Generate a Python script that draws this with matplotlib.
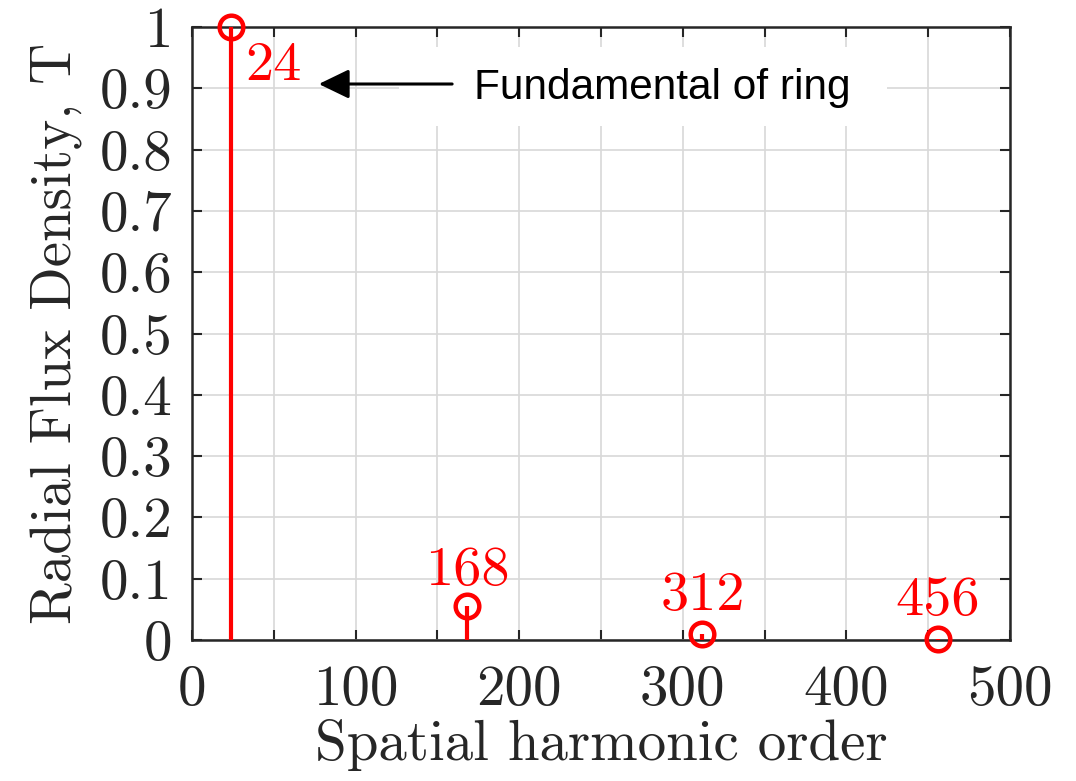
import matplotlib
matplotlib.use("Agg")
import matplotlib.pyplot as plt
from matplotlib.patches import Rectangle

plt.rcParams['font.family'] = ['cmr10', 'DejaVu Serif']
plt.rcParams['axes.formatter.use_mathtext'] = True
plt.rcParams['mathtext.fontset'] = 'cm'

# data
orders = [24, 168, 312, 456]
amplitudes = [1.0, 0.056, 0.010, 0.001]
labels = ["24", "168", "312", "456"]
label_pos = [(32.5, 0.913, 'left'), (168, 0.09, 'center'), (312, 0.049, 'center'), (456, 0.041, 'center')]
xticks = list(range(0, 501, 50))
xticklabels = [str(v) if v % 100 == 0 else "" for v in xticks]
yticks = [i / 10 for i in range(11)]
yticklabels = ["0", "0.1", "0.2", "0.3", "0.4", "0.5", "0.6", "0.7", "0.8", "0.9", "1"]

fig = plt.figure(figsize=(10.76, 7.81), dpi=100)
ax = fig.add_axes([192 / 1076, 141 / 781, 818 / 1076, 613 / 781])

ax.set_xlim(0, 500)
ax.set_ylim(0, 1)
ax.set_xticks(xticks)
ax.set_xticklabels(xticklabels)
ax.set_yticks(yticks)
ax.set_yticklabels(yticklabels)
ax.grid(True, color='#d8d8d8', linewidth=1.2, zorder=0)
ax.set_axisbelow(True)
ax.tick_params(direction='in', length=7, width=1.5, top=True, right=True,
               labelsize=41, colors='#262626', pad=14)
ax.tick_params(axis='x', pad=18)
for sp in ax.spines.values():
    sp.set_linewidth(1.8)
    sp.set_color('#262626')

# white box behind annotation
ax.add_patch(Rectangle((126.5, 0.838), 298.5, 0.13, facecolor='white', edgecolor='none', zorder=1))

ml, sl, bl = ax.stem(orders, amplitudes, linefmt='r-', markerfmt='ro', basefmt=' ')
plt.setp(sl, linewidth=3, color='#ff0000', zorder=3)
plt.setp(ml, markersize=17, markerfacecolor='none', markeredgewidth=3.2, color='#ff0000',
         clip_on=False, zorder=4)

for (x, y, ha), t in zip(label_pos, labels):
    ax.text(x, y, t, color='#ff0000', fontsize=40.5, ha=ha, va='baseline', zorder=5)

ax.annotate('', xy=(77.5, 0.907), xytext=(159, 0.907),
            arrowprops=dict(arrowstyle='-|>,head_length=0.62,head_width=0.3', color='black',
                            linewidth=2.2, mutation_scale=30, shrinkA=0, shrinkB=0), zorder=6)
ax.text(172.5, 0.9, 'Fundamental of ring', fontsize=30.5, family='Liberation Sans',
        ha='left', va='center', color='black', zorder=6)

ax.set_xlabel('Spatial harmonic order', fontsize=41, color='#262626', labelpad=2)
ax.set_ylabel('Radial Flux Density, T', fontsize=41, color='#262626', labelpad=12)

fig.savefig('out.png', dpi=100)
